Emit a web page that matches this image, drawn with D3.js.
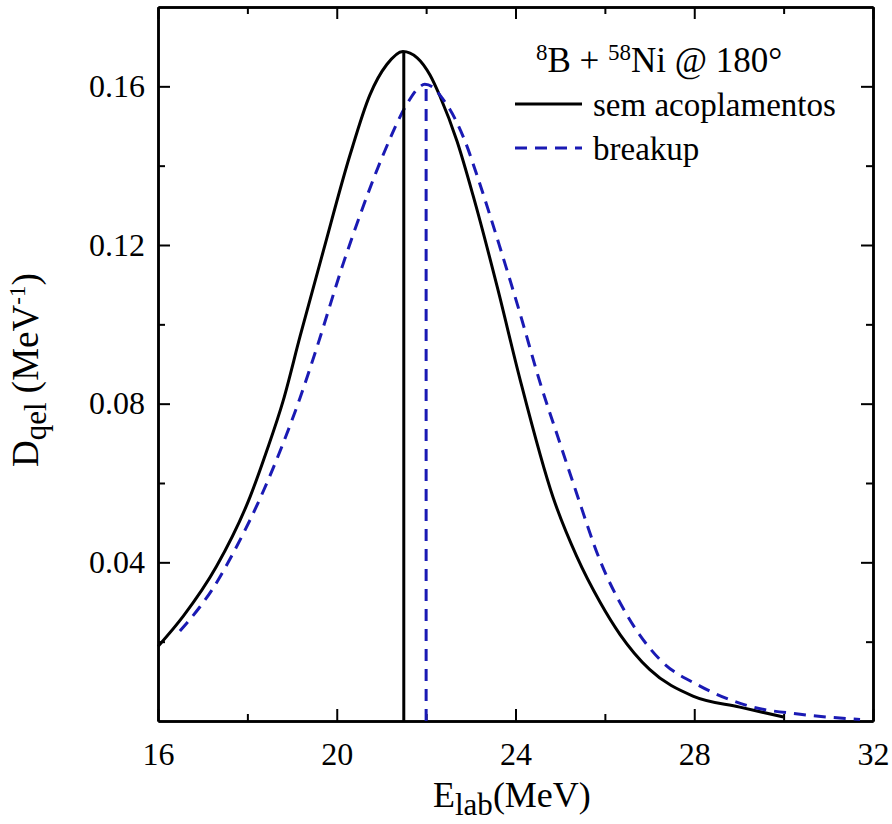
<!DOCTYPE html>
<html>
<head>
<meta charset="utf-8">
<script src="https://cdn.jsdelivr.net/npm/d3@7"></script>
<style>
    body { margin: 0; background: #fff; }
    svg { display: block; }
    svg text { font-family: "Liberation Serif", "Times New Roman", serif; }
</style>
</head>
<body>
<svg id="chart" width="892" height="824"></svg>
<script>
// E in MeV, D in MeV^-1
const energyNoCoupling = [16, 16.57, 17.31, 18.06, 18.43, 18.8, 19.18, 19.7, 20.3, 20.74, 21.12, 21.48,
    21.8, 22.09, 22.31, 22.69, 23.05, 23.59, 24.1, 24.84, 25.37, 25.89, 26.34, 27.0, 27.97, 29.02, 30.0]
const dqelNoCoupling = [0.0188, 0.0265, 0.039, 0.0565, 0.068, 0.0807, 0.097, 0.1185, 0.1428, 0.1578, 0.1655, 0.1688,
    0.1672, 0.1628, 0.1575, 0.1462, 0.1325, 0.1095, 0.0862, 0.0564, 0.0415, 0.030, 0.0218, 0.0130, 0.0063, 0.0035, 0.001]

const energyBreakup = [16.49, 16.94, 17.24, 17.69, 18.28, 18.8, 19.18, 19.55, 20.15, 20.52, 21.03, 21.57, 21.82, 21.97,
    22.15, 22.38, 22.53, 22.87, 23.14, 23.65, 24.1, 24.55, 24.99, 25.35, 25.89, 26.49, 27.23, 28.13, 29.25, 30.37, 31.71]
const dqelBreakup = [0.0227, 0.0288, 0.0336, 0.0425, 0.056, 0.07, 0.0815, 0.094, 0.1155, 0.1275, 0.1425, 0.1555, 0.1595, 0.1605,
    0.1598, 0.1567, 0.1542, 0.1462, 0.1375, 0.1195, 0.1028, 0.0853, 0.0702, 0.058, 0.0405, 0.0268, 0.0155, 0.0088, 0.0037, 0.0017, 0.0004]

// peak positions (vertical markers)
const peakEnergy = [21.5, 22.0]
const peakDqel = [0.1688, 0.1605]

const xMajorTicks = [16, 20, 24, 28, 32]
const xMinorTicks = [18, 22, 26, 30]
const yMajorTicks = [0.04, 0.08, 0.12, 0.16]
const yMinorTicks = [0.02, 0.06, 0.10, 0.14]
const legendLabels = ["sem acoplamentos", "breakup"]

const margin = {top: 7, right: 19, bottom: 103, left: 158}
const width = 892 - margin.left - margin.right
const height = 824 - margin.top - margin.bottom
const blue = "#1a1ab4"
const serif = '"Liberation Serif", "Times New Roman", serif'
const fontSize = 32

const svg = d3.select("#chart")
const g = svg.append("g").attr("transform", `translate(${margin.left},${margin.top})`)

const x = d3.scaleLinear().domain([16, 32]).range([0, width])
const y = d3.scaleLinear().domain([0, 0.18]).range([height, 0])

function styleAxis(sel) {
    sel.attr("font-family", serif).attr("font-size", fontSize)
    sel.selectAll("path.domain").attr("stroke", "#000").attr("stroke-width", 2.5)
    sel.selectAll(".tick line").attr("stroke", "#000").attr("stroke-width", 2)
    sel.selectAll("text").attr("fill", "#000")
}

// bottom axis with labels
g.append("g")
    .attr("transform", `translate(0,${height})`)
    .call(d3.axisBottom(x).tickValues(xMajorTicks).tickSize(-12).tickSizeOuter(0).tickPadding(21).tickFormat(d3.format("d")))
    .call(styleAxis)
g.append("g")
    .attr("transform", `translate(0,${height})`)
    .call(d3.axisBottom(x).tickValues(xMinorTicks).tickSize(-7).tickSizeOuter(0).tickFormat(""))
    .call(styleAxis)

// top axis, ticks only
g.append("g")
    .call(d3.axisTop(x).tickValues(xMajorTicks).tickSize(-12).tickSizeOuter(0).tickFormat(""))
    .call(styleAxis)
g.append("g")
    .call(d3.axisTop(x).tickValues(xMinorTicks).tickSize(-7).tickSizeOuter(0).tickFormat(""))
    .call(styleAxis)

// left axis with labels
g.append("g")
    .call(d3.axisLeft(y).tickValues(yMajorTicks).tickSize(-12).tickSizeOuter(0).tickPadding(13).tickFormat(d3.format(".2f")))
    .call(styleAxis)
g.append("g")
    .call(d3.axisLeft(y).tickValues(yMinorTicks).tickSize(-7).tickSizeOuter(0).tickFormat(""))
    .call(styleAxis)

// right axis, ticks only
g.append("g")
    .attr("transform", `translate(${width},0)`)
    .call(d3.axisRight(y).tickValues(yMajorTicks).tickSize(-12).tickSizeOuter(0).tickFormat(""))
    .call(styleAxis)
g.append("g")
    .attr("transform", `translate(${width},0)`)
    .call(d3.axisRight(y).tickValues(yMinorTicks).tickSize(-7).tickSizeOuter(0).tickFormat(""))
    .call(styleAxis)

const line = d3.line()
    .x(d => x(d[0]))
    .y(d => y(d[1]))
    .curve(d3.curveMonotoneX)

g.append("path")
    .datum(d3.zip(energyNoCoupling, dqelNoCoupling))
    .attr("d", line)
    .attr("fill", "none")
    .attr("stroke", "#000")
    .attr("stroke-width", 3)

g.append("path")
    .datum(d3.zip(energyBreakup, dqelBreakup))
    .attr("d", line)
    .attr("fill", "none")
    .attr("stroke", blue)
    .attr("stroke-width", 3)
    .attr("stroke-dasharray", "12,8")

// vertical peak markers
g.append("line")
    .attr("x1", x(peakEnergy[0])).attr("x2", x(peakEnergy[0]))
    .attr("y1", y(0)).attr("y2", y(peakDqel[0]))
    .attr("stroke", "#000")
    .attr("stroke-width", 3)
g.append("line")
    .attr("x1", x(peakEnergy[1])).attr("x2", x(peakEnergy[1]))
    .attr("y1", y(0)).attr("y2", y(peakDqel[1]))
    .attr("stroke", blue)
    .attr("stroke-width", 3)
    .attr("stroke-dasharray", "12,8")

// legend
const legend = svg.append("g").attr("font-size", 33)
const title = legend.append("text").attr("x", 536).attr("y", 72).attr("font-size", 35)
title.append("tspan").attr("font-size", 23).attr("dy", -12).text("8")
title.append("tspan").attr("dy", 12).text("B + ")
title.append("tspan").attr("font-size", 23).attr("dy", -12).text("58")
title.append("tspan").attr("dy", 12).text("Ni @ 180°")

const legendY = [104, 148]
legend.append("line")
    .attr("x1", 515).attr("x2", 582)
    .attr("y1", legendY[0]).attr("y2", legendY[0])
    .attr("stroke", "#000").attr("stroke-width", 3)
legend.append("line")
    .attr("x1", 515).attr("x2", 582)
    .attr("y1", legendY[1]).attr("y2", legendY[1])
    .attr("stroke", blue).attr("stroke-width", 3)
    .attr("stroke-dasharray", "12,8")
legendLabels.forEach((label, i) => {
    legend.append("text")
        .attr("x", 593)
        .attr("y", legendY[i] + 12)
        .text(label)
})

// axis titles
const xTitle = svg.append("text")
    .attr("x", 433)
    .attr("y", 807)
    .attr("font-size", 36)
xTitle.append("tspan").text("E")
xTitle.append("tspan").attr("font-size", 31).attr("dy", 8).text("lab")
xTitle.append("tspan").attr("dy", -8).text("(MeV)")

const yTitle = svg.append("text")
    .attr("transform", "translate(38,467) rotate(-90)")
    .attr("font-size", 37)
yTitle.append("tspan").text("D")
yTitle.append("tspan").attr("font-size", 31).attr("dy", 8).text("qel")
yTitle.append("tspan").attr("dy", -8).text(" (MeV")
yTitle.append("tspan").attr("font-size", 23).attr("dy", -13).text("-1")
yTitle.append("tspan").attr("dy", 13).text(")")
</script>
</body>
</html>
